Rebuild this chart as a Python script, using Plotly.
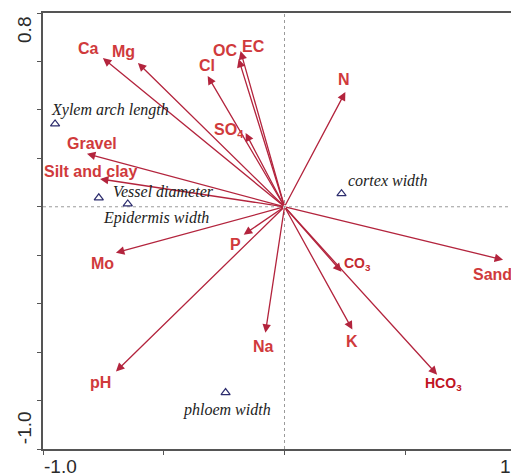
import plotly.graph_objects as go

# Environmental variables (biplot arrows): name, x, y
env_names = ["Ca", "Mg", "Cl", "OC", "EC", "SO<sub>4</sub>", "Gravel", "Silt and clay",
             "N", "Sand", "CO<sub>3</sub>", "K", "HCO<sub>3</sub>", "Na", "Mo", "P", "pH"]
env_x = [-0.752, -0.607, -0.318, -0.190, -0.182, -0.161, -0.818, -0.764,
         0.252, 0.905, 0.236, 0.281, 0.632, -0.079, -0.698, -0.169, -0.698]
env_y = [0.614, 0.594, 0.540, 0.610, 0.643, 0.305, 0.219, 0.115,
         0.474, -0.219, -0.268, -0.507, -0.693, -0.520, -0.190, -0.115, -0.680]

# Species (anatomical traits): name, x, y
sp_names = ["Xylem arch length", "Vessel diameter", "Epidermis width", "cortex width", "phloem width"]
sp_x = [-0.950, -0.769, -0.649, 0.236, -0.244]
sp_y = [0.342, 0.037, 0.012, 0.054, -0.767]

# Axis ticks
x_ticks = [-1.0, -0.5, 0.0, 0.5, 1.0]
y_ticks = [-1.0, -0.8, -0.6, -0.4, -0.2, 0.0, 0.2, 0.4, 0.6, 0.8]

# label pixel offsets (styling)
env_off = {"Ca": (-14, 10), "Mg": (-14, 11), "Cl": (-1, 10), "OC": (-14, 9), "EC": (13, 5),
           "SO<sub>4</sub>": (-17, 2), "Gravel": (5, 10), "Silt and clay": (-9, 7),
           "N": (-1, 12), "Sand": (-11, -15), "CO<sub>3</sub>": (16, 8), "K": (0, -12),
           "HCO<sub>3</sub>": (6, -9), "Na": (-2, -14), "Mo": (-13, -11), "P": (-8, -10),
           "pH": (-15, -11)}
sp_off = [(-6, 14, "left"), (12, 6, "left"), (-27, -14, "left"), (4, 13, "left"), (-45, -17, "left")]

ARROW = "#B3243D"
TEXT = "#D03A3C"

fig = go.Figure()

# zero lines (dotted)
fig.add_shape(type="line", xref="x", yref="y", x0=-1.0, x1=1.0, y0=0, y1=0,
              line=dict(color="#9a9a9a", width=1, dash="dot"), layer="below")
fig.add_shape(type="line", xref="x", yref="y", x0=0, x1=0, y0=-1.0, y1=0.8,
              line=dict(color="#9a9a9a", width=1, dash="dot"), layer="below")

# species triangles
fig.add_trace(go.Scatter(x=sp_x, y=sp_y, mode="markers",
                         marker=dict(symbol="triangle-up-open", size=8, color="#2d2d6e",
                                     line=dict(width=1.2, color="#2d2d6e")),
                         showlegend=False, hoverinfo="skip"))

annotations = []
for n, x, y in zip(env_names, env_x, env_y):
    annotations.append(dict(x=x, y=y, ax=0, ay=0, xref="x", yref="y", axref="x", ayref="y",
                            text="", showarrow=True, arrowhead=2, arrowsize=1.3,
                            arrowwidth=1.3, arrowcolor=ARROW, standoff=0, startstandoff=0))
    dx, dy = env_off[n]
    small = n.startswith("CO") or n.startswith("HCO")
    color = TEXT
    if n.startswith("HCO"):
        color = "#C0141F"
    elif n.startswith("CO"):
        color = "#C42A30"
    annotations.append(dict(x=x, y=y, xref="x", yref="y", text=f"<b>{n}</b>", showarrow=False,
                            xshift=dx, yshift=dy,
                            font=dict(family="Liberation Sans, Arial", size=14 if small else 16,
                                      color=color)))

for (n, x, y), (dx, dy, xa) in zip(zip(sp_names, sp_x, sp_y), sp_off):
    annotations.append(dict(x=x, y=y, xref="x", yref="y", text=f"<i>{n}</i>", showarrow=False,
                            xshift=dx, yshift=dy, xanchor=xa,
                            font=dict(family="Liberation Serif, Times New Roman", size=16,
                                      color="#222222")))

# tick labels (end labels only, CANOCO style)
tf = dict(family="Liberation Sans, Arial", size=19, color="#2a2a2a")
annotations += [
    dict(xref="paper", yref="paper", x=-0.002, y=-0.04, text=f"{x_ticks[0]:.1f}", showarrow=False,
         xanchor="left", yanchor="middle", font=tf),
    dict(xref="paper", yref="paper", x=0.956, y=-0.04, text=f"{x_ticks[-1]:.1f}", showarrow=False,
         xanchor="left", yanchor="middle", font=tf),
    dict(xref="paper", yref="paper", x=-0.04, y=0.961, text=f"{y_ticks[-1]:.1f}", showarrow=False,
         textangle=-90, xanchor="center", yanchor="middle", font=tf),
    dict(xref="paper", yref="paper", x=-0.04, y=0.05, text=f"{y_ticks[0]:.1f}", showarrow=False,
         textangle=-90, xanchor="center", yanchor="middle", font=tf),
]

# page has an 8px body margin: shrink figure so the plot lands on the reference pixels
fig.update_layout(
    width=511, height=466,
    margin=dict(l=35, r=0, t=5, b=25),
    paper_bgcolor="white", plot_bgcolor="white",
    annotations=annotations,
    xaxis=dict(range=[-1.0, 0.971], showgrid=False, zeroline=False, showline=True,
               linecolor="#555555", linewidth=1.5, mirror=True, ticks="outside",
               tickvals=x_ticks, ticklen=4, tickcolor="#555555", showticklabels=False),
    yaxis=dict(range=[-1.0, 0.8], showgrid=False, zeroline=False, showline=True,
               linecolor="#555555", linewidth=1.5, mirror=False, ticks="outside",
               tickvals=y_ticks, ticklen=4, tickcolor="#555555", showticklabels=False),
)

fig.write_html("out.html")
